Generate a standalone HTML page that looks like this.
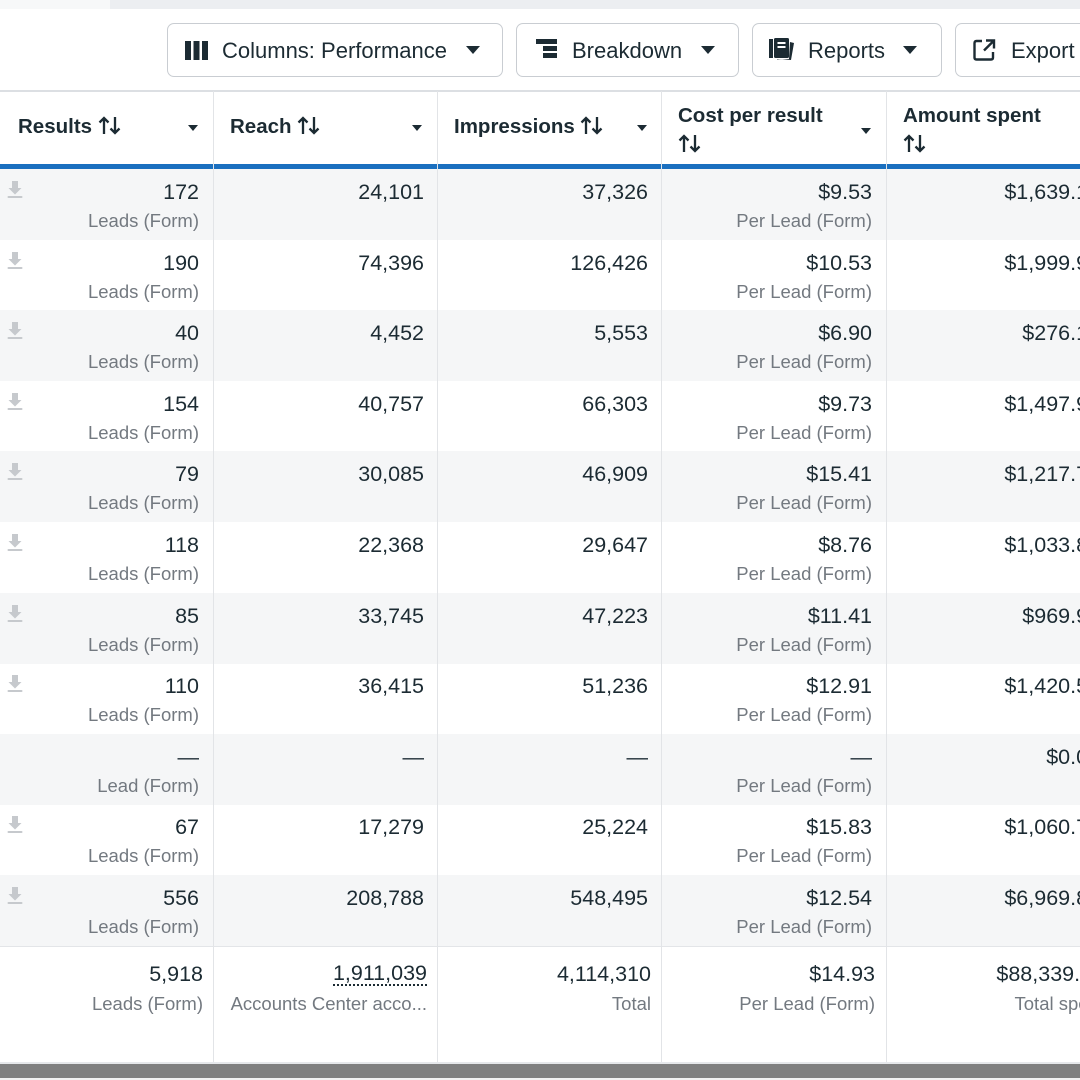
<!DOCTYPE html>
<html><head><meta charset="utf-8">
<style>
*{margin:0;padding:0;box-sizing:border-box}
html,body{width:1080px;height:1080px;overflow:hidden;background:#fff}
body{position:relative;font-family:"Liberation Sans",sans-serif;color:#1c2b33}
.abs{position:absolute}
.btn{position:absolute;top:23px;height:54px;border:1.5px solid #c9cdd2;border-radius:7px;background:#fff;font-size:22px;color:#1c2b33}
.btn .t{position:absolute;top:14px;line-height:26px;white-space:nowrap}
.tri{position:absolute;width:0;height:0;border-left:7px solid transparent;border-right:7px solid transparent;border-top:8px solid #1c2b33}
.htri{position:absolute;width:0;height:0;border-left:5.5px solid transparent;border-right:5.5px solid transparent;border-top:6px solid #1c2b33}
.hd{position:absolute;font-weight:bold;font-size:20.5px;line-height:29px;white-space:nowrap}
.row{position:absolute;left:0;width:1080px;height:71px}
.g{background:#f5f6f7}
.c{position:absolute;top:0;height:71px;text-align:right;white-space:nowrap}
.v{position:absolute;right:0;top:10px;font-size:21.5px;line-height:26px}
.s{position:absolute;right:0;top:40px;font-size:18.5px;line-height:24px;color:#737980}
.vl{position:absolute;top:91px;width:1px;height:971px;background:#e2e4e7}
.dl{position:absolute;left:7px;top:10px}
</style></head><body>

<!-- top strip -->
<div class="abs" style="left:0;top:0;width:110px;height:9px;background:#f7f8f9"></div>
<div class="abs" style="left:110px;top:0;width:970px;height:9px;background:#eceef1"></div>

<!-- buttons -->
<div class="btn" style="left:167px;width:336px">
  <svg class="abs" style="left:17px;top:17px" width="24" height="19"><rect x="0" y="0" width="6" height="19" fill="#1c2b33"/><rect x="8.5" y="0" width="6" height="19" fill="#1c2b33"/><rect x="17" y="0" width="6" height="19" fill="#1c2b33"/></svg>
  <span class="t" style="left:54px">Columns: Performance</span>
  <div class="tri" style="left:298px;top:22px"></div>
</div>
<div class="btn" style="left:516px;width:223px">
  <svg class="abs" style="left:19px;top:15px" width="22" height="20"><rect x="0" y="0" width="21" height="5" fill="#1c2b33"/><rect x="7" y="7" width="14" height="5" fill="#1c2b33"/><rect x="7" y="14" width="14" height="5" fill="#1c2b33"/></svg>
  <span class="t" style="left:55px">Breakdown</span>
  <div class="tri" style="left:184px;top:22px"></div>
</div>
<div class="btn" style="left:752px;width:190px">
  <svg class="abs" style="left:16px;top:14px" width="27" height="24"><rect x="0" y="1" width="4" height="19" fill="#1c2b33"/><rect x="5" y="0" width="15" height="20" rx="1.5" fill="#1c2b33"/><rect x="8.5" y="4" width="8" height="2" fill="#fff"/><rect x="8.5" y="8" width="8" height="2" fill="#fff"/><path d="M21 4 L25 5 L22 22 L8 21 L8 21.5 L20 21 Z" fill="#1c2b33"/></svg>
  <span class="t" style="left:55px">Reports</span>
  <div class="tri" style="left:150px;top:22px"></div>
</div>
<div class="btn" style="left:955px;width:160px">
  <svg class="abs" style="left:17px;top:15px" width="24" height="22"><path d="M9 2 H3.5 Q1.5 2 1.5 4 V18.5 Q1.5 20.5 3.5 20.5 H18 Q20 20.5 20 18.5 V13" fill="none" stroke="#1c2b33" stroke-width="2.4"/><path d="M13 1.5 H21 V9.5 M21 1.5 L11 11.5" fill="none" stroke="#1c2b33" stroke-width="2.4"/></svg>
  <span class="t" style="left:55px">Export</span>
</div>

<!-- header -->
<div class="abs" style="left:0;top:90px;width:1080px;height:1.5px;background:#dcdfe3"></div>
<div class="abs" style="left:0;top:164px;width:1080px;height:5px;background:#1a6fbf"></div>

<div class="hd" style="left:18px;top:112px">Results <svg style="vertical-align:-2px" width="24" height="19"><path d="M6 18 V2 M1.5 6.5 L6 2 L10.5 6.5" fill="none" stroke="#1c2b33" stroke-width="2.3"/><path d="M17 1 V17 M12.5 12.5 L17 17 L21.5 12.5" fill="none" stroke="#1c2b33" stroke-width="2.3"/></svg></div>
<div class="htri" style="left:188px;top:125px"></div>
<div class="hd" style="left:230px;top:112px">Reach <svg style="vertical-align:-2px" width="24" height="19"><path d="M6 18 V2 M1.5 6.5 L6 2 L10.5 6.5" fill="none" stroke="#1c2b33" stroke-width="2.3"/><path d="M17 1 V17 M12.5 12.5 L17 17 L21.5 12.5" fill="none" stroke="#1c2b33" stroke-width="2.3"/></svg></div>
<div class="htri" style="left:412px;top:125px"></div>
<div class="hd" style="left:454px;top:112px">Impressions <svg style="vertical-align:-2px" width="24" height="19"><path d="M6 18 V2 M1.5 6.5 L6 2 L10.5 6.5" fill="none" stroke="#1c2b33" stroke-width="2.3"/><path d="M17 1 V17 M12.5 12.5 L17 17 L21.5 12.5" fill="none" stroke="#1c2b33" stroke-width="2.3"/></svg></div>
<div class="htri" style="left:637px;top:125px"></div>
<div class="hd" style="left:678px;top:101px">Cost per result<br><svg style="vertical-align:-2px" width="24" height="19"><path d="M6 18 V2 M1.5 6.5 L6 2 L10.5 6.5" fill="none" stroke="#1c2b33" stroke-width="2.3"/><path d="M17 1 V17 M12.5 12.5 L17 17 L21.5 12.5" fill="none" stroke="#1c2b33" stroke-width="2.3"/></svg></div>
<div class="htri" style="left:861px;top:128px"></div>
<div class="hd" style="left:903px;top:101px">Amount spent<br><svg style="vertical-align:-2px" width="24" height="19"><path d="M6 18 V2 M1.5 6.5 L6 2 L10.5 6.5" fill="none" stroke="#1c2b33" stroke-width="2.3"/><path d="M17 1 V17 M12.5 12.5 L17 17 L21.5 12.5" fill="none" stroke="#1c2b33" stroke-width="2.3"/></svg></div>

<!-- rows -->
<div class="row g" style="top:169px">
 <svg class="dl" width="16" height="20"><path d="M5 2 H11 V9 H14.5 L8 15.5 L1.5 9 H5 Z" fill="#c6c9cd"/><rect x="0.5" y="17" width="15" height="2" rx="1" fill="#c6c9cd"/></svg>
 <div class="c" style="left:0;width:199px"><span class="v">172</span><span class="s">Leads (Form)</span></div>
 <div class="c" style="left:213px;width:211px"><span class="v">24,101</span></div>
 <div class="c" style="left:437px;width:211px"><span class="v">37,326</span></div>
 <div class="c" style="left:661px;width:211px"><span class="v">$9.53</span><span class="s">Per Lead (Form)</span></div>
 <div class="c" style="left:886px;width:214px"><span class="v">$1,639.13</span></div>
</div>
<div class="row" style="top:239.6px">
 <svg class="dl" width="16" height="20"><path d="M5 2 H11 V9 H14.5 L8 15.5 L1.5 9 H5 Z" fill="#c6c9cd"/><rect x="0.5" y="17" width="15" height="2" rx="1" fill="#c6c9cd"/></svg>
 <div class="c" style="left:0;width:199px"><span class="v">190</span><span class="s">Leads (Form)</span></div>
 <div class="c" style="left:213px;width:211px"><span class="v">74,396</span></div>
 <div class="c" style="left:437px;width:211px"><span class="v">126,426</span></div>
 <div class="c" style="left:661px;width:211px"><span class="v">$10.53</span><span class="s">Per Lead (Form)</span></div>
 <div class="c" style="left:886px;width:214px"><span class="v">$1,999.95</span></div>
</div>
<div class="row g" style="top:310.2px">
 <svg class="dl" width="16" height="20"><path d="M5 2 H11 V9 H14.5 L8 15.5 L1.5 9 H5 Z" fill="#c6c9cd"/><rect x="0.5" y="17" width="15" height="2" rx="1" fill="#c6c9cd"/></svg>
 <div class="c" style="left:0;width:199px"><span class="v">40</span><span class="s">Leads (Form)</span></div>
 <div class="c" style="left:213px;width:211px"><span class="v">4,452</span></div>
 <div class="c" style="left:437px;width:211px"><span class="v">5,553</span></div>
 <div class="c" style="left:661px;width:211px"><span class="v">$6.90</span><span class="s">Per Lead (Form)</span></div>
 <div class="c" style="left:886px;width:214px"><span class="v">$276.12</span></div>
</div>
<div class="row" style="top:380.8px">
 <svg class="dl" width="16" height="20"><path d="M5 2 H11 V9 H14.5 L8 15.5 L1.5 9 H5 Z" fill="#c6c9cd"/><rect x="0.5" y="17" width="15" height="2" rx="1" fill="#c6c9cd"/></svg>
 <div class="c" style="left:0;width:199px"><span class="v">154</span><span class="s">Leads (Form)</span></div>
 <div class="c" style="left:213px;width:211px"><span class="v">40,757</span></div>
 <div class="c" style="left:437px;width:211px"><span class="v">66,303</span></div>
 <div class="c" style="left:661px;width:211px"><span class="v">$9.73</span><span class="s">Per Lead (Form)</span></div>
 <div class="c" style="left:886px;width:214px"><span class="v">$1,497.95</span></div>
</div>
<div class="row g" style="top:451.4px">
 <svg class="dl" width="16" height="20"><path d="M5 2 H11 V9 H14.5 L8 15.5 L1.5 9 H5 Z" fill="#c6c9cd"/><rect x="0.5" y="17" width="15" height="2" rx="1" fill="#c6c9cd"/></svg>
 <div class="c" style="left:0;width:199px"><span class="v">79</span><span class="s">Leads (Form)</span></div>
 <div class="c" style="left:213px;width:211px"><span class="v">30,085</span></div>
 <div class="c" style="left:437px;width:211px"><span class="v">46,909</span></div>
 <div class="c" style="left:661px;width:211px"><span class="v">$15.41</span><span class="s">Per Lead (Form)</span></div>
 <div class="c" style="left:886px;width:214px"><span class="v">$1,217.74</span></div>
</div>
<div class="row" style="top:522px">
 <svg class="dl" width="16" height="20"><path d="M5 2 H11 V9 H14.5 L8 15.5 L1.5 9 H5 Z" fill="#c6c9cd"/><rect x="0.5" y="17" width="15" height="2" rx="1" fill="#c6c9cd"/></svg>
 <div class="c" style="left:0;width:199px"><span class="v">118</span><span class="s">Leads (Form)</span></div>
 <div class="c" style="left:213px;width:211px"><span class="v">22,368</span></div>
 <div class="c" style="left:437px;width:211px"><span class="v">29,647</span></div>
 <div class="c" style="left:661px;width:211px"><span class="v">$8.76</span><span class="s">Per Lead (Form)</span></div>
 <div class="c" style="left:886px;width:214px"><span class="v">$1,033.86</span></div>
</div>
<div class="row g" style="top:592.6px">
 <svg class="dl" width="16" height="20"><path d="M5 2 H11 V9 H14.5 L8 15.5 L1.5 9 H5 Z" fill="#c6c9cd"/><rect x="0.5" y="17" width="15" height="2" rx="1" fill="#c6c9cd"/></svg>
 <div class="c" style="left:0;width:199px"><span class="v">85</span><span class="s">Leads (Form)</span></div>
 <div class="c" style="left:213px;width:211px"><span class="v">33,745</span></div>
 <div class="c" style="left:437px;width:211px"><span class="v">47,223</span></div>
 <div class="c" style="left:661px;width:211px"><span class="v">$11.41</span><span class="s">Per Lead (Form)</span></div>
 <div class="c" style="left:886px;width:214px"><span class="v">$969.97</span></div>
</div>
<div class="row" style="top:663.2px">
 <svg class="dl" width="16" height="20"><path d="M5 2 H11 V9 H14.5 L8 15.5 L1.5 9 H5 Z" fill="#c6c9cd"/><rect x="0.5" y="17" width="15" height="2" rx="1" fill="#c6c9cd"/></svg>
 <div class="c" style="left:0;width:199px"><span class="v">110</span><span class="s">Leads (Form)</span></div>
 <div class="c" style="left:213px;width:211px"><span class="v">36,415</span></div>
 <div class="c" style="left:437px;width:211px"><span class="v">51,236</span></div>
 <div class="c" style="left:661px;width:211px"><span class="v">$12.91</span><span class="s">Per Lead (Form)</span></div>
 <div class="c" style="left:886px;width:214px"><span class="v">$1,420.55</span></div>
</div>
<div class="row g" style="top:733.8px">
 <div class="c" style="left:0;width:199px"><span class="v">—</span><span class="s">Lead (Form)</span></div>
 <div class="c" style="left:213px;width:211px"><span class="v">—</span></div>
 <div class="c" style="left:437px;width:211px"><span class="v">—</span></div>
 <div class="c" style="left:661px;width:211px"><span class="v">—</span><span class="s">Per Lead (Form)</span></div>
 <div class="c" style="left:886px;width:214px"><span class="v">$0.00</span></div>
</div>
<div class="row" style="top:804.4px">
 <svg class="dl" width="16" height="20"><path d="M5 2 H11 V9 H14.5 L8 15.5 L1.5 9 H5 Z" fill="#c6c9cd"/><rect x="0.5" y="17" width="15" height="2" rx="1" fill="#c6c9cd"/></svg>
 <div class="c" style="left:0;width:199px"><span class="v">67</span><span class="s">Leads (Form)</span></div>
 <div class="c" style="left:213px;width:211px"><span class="v">17,279</span></div>
 <div class="c" style="left:437px;width:211px"><span class="v">25,224</span></div>
 <div class="c" style="left:661px;width:211px"><span class="v">$15.83</span><span class="s">Per Lead (Form)</span></div>
 <div class="c" style="left:886px;width:214px"><span class="v">$1,060.72</span></div>
</div>
<div class="row g" style="top:875px">
 <svg class="dl" width="16" height="20"><path d="M5 2 H11 V9 H14.5 L8 15.5 L1.5 9 H5 Z" fill="#c6c9cd"/><rect x="0.5" y="17" width="15" height="2" rx="1" fill="#c6c9cd"/></svg>
 <div class="c" style="left:0;width:199px"><span class="v">556</span><span class="s">Leads (Form)</span></div>
 <div class="c" style="left:213px;width:211px"><span class="v">208,788</span></div>
 <div class="c" style="left:437px;width:211px"><span class="v">548,495</span></div>
 <div class="c" style="left:661px;width:211px"><span class="v">$12.54</span><span class="s">Per Lead (Form)</span></div>
 <div class="c" style="left:886px;width:214px"><span class="v">$6,969.84</span></div>
</div>

<!-- total row -->
<div class="abs" style="left:0;top:945.6px;width:1080px;height:1.5px;background:#e3e5e8"></div>
<div class="row" style="top:947px;height:115px">
 <div class="c" style="left:0;width:203px"><span class="v" style="top:14px">5,918</span><span class="s" style="top:45px">Leads (Form)</span></div>
 <div class="c" style="left:213px;width:214px"><span class="v" style="top:15px;line-height:22px;border-bottom:2px dotted #1c2b33">1,911,039</span><span class="s" style="top:45px">Accounts Center acco...</span></div>
 <div class="c" style="left:437px;width:214px"><span class="v" style="top:14px">4,114,310</span><span class="s" style="top:45px">Total</span></div>
 <div class="c" style="left:661px;width:214px"><span class="v" style="top:14px">$14.93</span><span class="s" style="top:45px">Per Lead (Form)</span></div>
 <div class="c" style="left:886px;width:218px"><span class="v" style="top:14px">$88,339.12</span><span class="s" style="top:45px">Total spent</span></div>
</div>

<!-- vertical dividers -->
<div class="vl" style="left:213px"></div>
<div class="vl" style="left:437px"></div>
<div class="vl" style="left:661px"></div>
<div class="vl" style="left:886px"></div>

<!-- bottom scrollbar -->
<div class="abs" style="left:0;top:1062px;width:1080px;height:2px;background:#e6e8eb"></div>
<div class="abs" style="left:0;top:1064px;width:1080px;height:14px;background:#808080"></div>
<div class="abs" style="left:0;top:1078px;width:1080px;height:2px;background:#f2f2f2"></div>
</body></html>
